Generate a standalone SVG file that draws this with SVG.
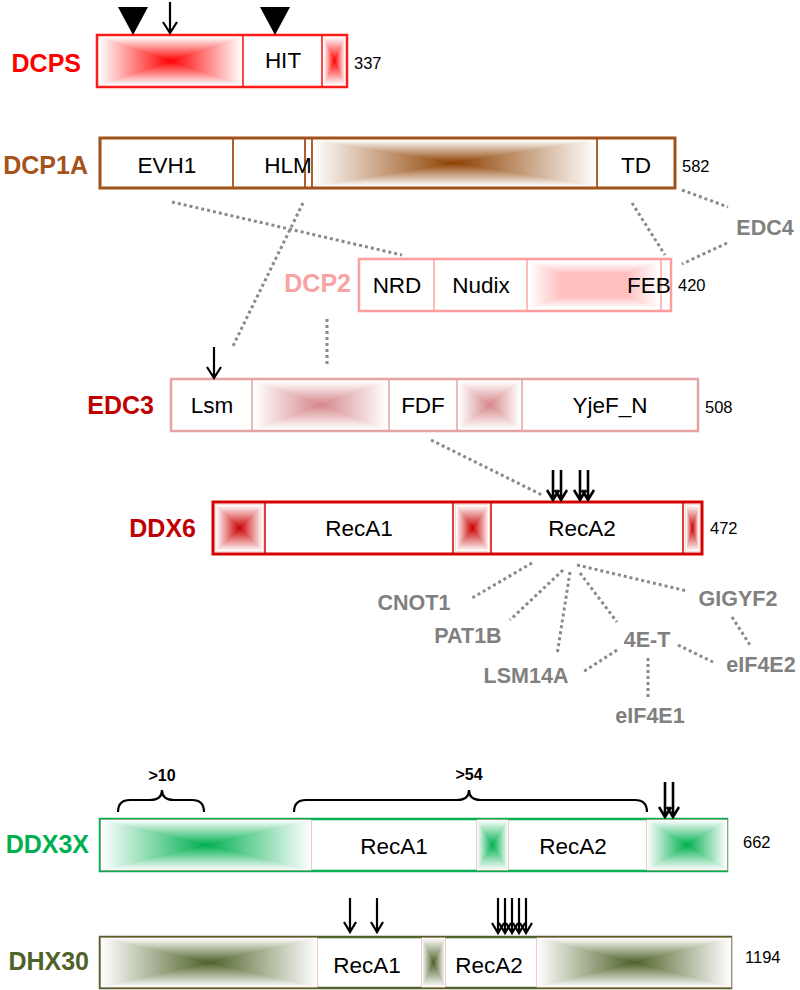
<svg xmlns="http://www.w3.org/2000/svg" xmlns:xlink="http://www.w3.org/1999/xlink" width="800" height="990" viewBox="0 0 800 990">
<style>
.lbl{font-family:"Liberation Sans",Arial,sans-serif;font-weight:bold;font-size:25px;text-anchor:end}
.dom{font-family:"Liberation Sans",Arial,sans-serif;font-size:22.5px;text-anchor:middle;fill:#000}
.num{font-family:"Liberation Sans",Arial,sans-serif;font-size:16.5px;fill:#000}
.gry{font-family:"Liberation Sans",Arial,sans-serif;font-weight:bold;font-size:21.5px;text-anchor:middle;fill:#808080}
.brt{font-family:"Liberation Sans",Arial,sans-serif;font-weight:bold;font-size:16px;text-anchor:middle;fill:#000}
.dot{stroke:#8a8a8a;stroke-width:3;stroke-dasharray:3 3;fill:none}
.arr{stroke:#000;stroke-width:2.2;fill:none}
.arr2{stroke:#000;stroke-width:2.6;fill:none}
.brace{stroke:#000;stroke-width:2.2;fill:none}
.tri{shape-rendering:crispEdges}
</style>
<defs>
<linearGradient id="fL" x1="0" y1="0" x2="1" y2="0"><stop offset="0" stop-color="#fff"/><stop offset="1" stop-color="#fff" stop-opacity="0"/></linearGradient>
<linearGradient id="fR" x1="1" y1="0" x2="0" y2="0"><stop offset="0" stop-color="#fff"/><stop offset="1" stop-color="#fff" stop-opacity="0"/></linearGradient>
<linearGradient id="fT" x1="0" y1="0" x2="0" y2="1"><stop offset="0" stop-color="#fff"/><stop offset="1" stop-color="#fff" stop-opacity="0"/></linearGradient>
<linearGradient id="fB" x1="0" y1="1" x2="0" y2="0"><stop offset="0" stop-color="#fff"/><stop offset="1" stop-color="#fff" stop-opacity="0"/></linearGradient>
<linearGradient id="pL" x1="0" y1="0" x2="1" y2="0"><stop offset="0" stop-color="#fff"/><stop offset="0.5" stop-color="#fff" stop-opacity="0"/></linearGradient>
<linearGradient id="pR" x1="1" y1="0" x2="0" y2="0"><stop offset="0" stop-color="#fff"/><stop offset="0.5" stop-color="#fff" stop-opacity="0"/></linearGradient>
<linearGradient id="pT" x1="0" y1="0" x2="0" y2="1"><stop offset="0" stop-color="#fff"/><stop offset="0.5" stop-color="#fff" stop-opacity="0"/></linearGradient>
<linearGradient id="pB" x1="0" y1="1" x2="0" y2="0"><stop offset="0" stop-color="#fff"/><stop offset="0.5" stop-color="#fff" stop-opacity="0"/></linearGradient>
<symbol id="fade" viewBox="0 0 100 100" preserveAspectRatio="none">
<polygon class="tri" points="0,0 50,50 0,100" fill="url(#fL)"/>
<polygon class="tri" points="100,0 50,50 100,100" fill="url(#fR)"/>
<polygon class="tri" points="0,0 100,0 50,50" fill="url(#fT)"/>
<polygon class="tri" points="0,100 100,100 50,50" fill="url(#fB)"/>
</symbol>
<symbol id="fade2" viewBox="0 0 100 100" preserveAspectRatio="none">
<polygon class="tri" points="0,0 50,50 0,100" fill="url(#pL)"/>
<polygon class="tri" points="100,0 50,50 100,100" fill="url(#pR)"/>
<polygon class="tri" points="0,0 100,0 50,50" fill="url(#pT)"/>
<polygon class="tri" points="0,100 100,100 50,50" fill="url(#pB)"/>
</symbol>
</defs>
<rect width="800" height="990" fill="#fff"/>

<g id="connectors">
<path class="dot" d="M172,202 L402,255"/>
<path class="dot" d="M303,203 L232,348"/>
<path class="dot" d="M632,203 L665,255"/>
<path class="dot" d="M682,190 L728,207"/>
<path class="dot" d="M727,243 L682,264"/>
<path class="dot" d="M327,319 L327,367"/>
<path class="dot" d="M431,440 L542,495"/>
<path class="dot" d="M532,563 L472,598"/>
<path class="dot" d="M563,570 L510,620"/>
<path class="dot" d="M570,572 L557,655"/>
<path class="dot" d="M580,573 L617,622"/>
<path class="dot" d="M577,565 L687,591"/>
<path class="dot" d="M732,617 L750,645"/>
<path class="dot" d="M678,645 L713,662"/>
<path class="dot" d="M617,650 L583,672"/>
<path class="dot" d="M648,658 L648,698"/>
</g>

<g id="DCPS">
<text class="lbl" x="81" y="72" fill="#ff0000">DCPS</text>
<rect x="97" y="35" width="250" height="52" fill="#fff"/>
<rect x="99" y="37" width="143" height="48" fill="#ff0000"/><use xlink:href="#fade" x="99" y="37" width="143" height="48"/>
<rect x="324" y="37" width="21" height="48" fill="#ff0000"/><use xlink:href="#fade" x="324" y="37" width="21" height="48"/>
<path d="M243,35 V87 M322,35 V87" stroke="#ff1a1a" stroke-width="1.6"/>
<rect x="97" y="35" width="250" height="52" fill="none" stroke="#ff1a1a" stroke-width="2.5"/>
<text class="dom" x="283" y="68">HIT</text>
<text class="num" x="354" y="69">337</text>
<polygon points="118,7 148,7 133,35" fill="#000"/>
<polygon points="260,7 290,7 275,35" fill="#000"/>
<path class="arr" d="M170,2 V33 M163,22 L170,33 L177,22"/>
</g>

<g id="DCP1A">
<text class="lbl" x="88" y="174" fill="#a5521b">DCP1A</text>
<rect x="100" y="138" width="575" height="50" fill="#fff"/>
<rect x="313" y="140" width="283" height="46" fill="#8e4000"/><use xlink:href="#fade" x="313" y="140" width="283" height="46"/>
<path d="M233,138 V188 M305,138 V188 M312,138 V188 M597,138 V188" stroke="#a0521a" stroke-width="1.8"/>
<rect x="100" y="138" width="575" height="50" fill="none" stroke="#a0521a" stroke-width="3"/>
<text class="dom" x="167" y="173">EVH1</text>
<text class="dom" x="288" y="173">HLM</text>
<text class="dom" x="636" y="173">TD</text>
<text class="num" x="682" y="172">582</text>
</g>

<g id="EDC4">
<text class="gry" x="765" y="235">EDC4</text>
</g>

<g id="DCP2">
<text class="lbl" x="351" y="292" fill="#f7a3a3">DCP2</text>
<rect x="359" y="259" width="312" height="52" fill="#fff"/>
<rect x="529" y="262" width="130" height="46" fill="#ffbfbf"/><use xlink:href="#fade2" x="529" y="262" width="130" height="46"/>
<path d="M434,259 V311 M527,259 V311 M661,259 V311" stroke="#ffa5a5" stroke-width="1.5"/>
<rect x="359" y="259" width="312" height="52" fill="none" stroke="#ff9d9d" stroke-width="2.5"/>
<text class="dom" x="397" y="293">NRD</text>
<text class="dom" x="481" y="293">Nudix</text>
<text class="dom" x="649" y="293">FEB</text>
<text class="num" x="678" y="291">420</text>
</g>

<g id="EDC3">
<text class="lbl" x="154" y="414" fill="#c00000">EDC3</text>
<rect x="171" y="379" width="527" height="52" fill="#fff"/>
<rect x="254" y="381" width="133" height="48" fill="#d6878a"/><use xlink:href="#fade" x="254" y="381" width="133" height="48"/>
<rect x="459" y="381" width="61" height="48" fill="#d6878a"/><use xlink:href="#fade" x="459" y="381" width="61" height="48"/>
<path d="M252,379 V431 M389,379 V431 M457,379 V431 M522,379 V431" stroke="#e6a3a3" stroke-width="1.5"/>
<rect x="171" y="379" width="527" height="52" fill="none" stroke="#e6a3a3" stroke-width="2.5"/>
<text class="dom" x="212" y="413">Lsm</text>
<text class="dom" x="423" y="413">FDF</text>
<text class="dom" x="610" y="413">YjeF_N</text>
<text class="num" x="705" y="413">508</text>
<path class="arr" d="M214,347 V378 M207,367 L214,378 L221,367"/>
</g>

<g id="DDX6">
<text class="lbl" x="196" y="537" fill="#c00000">DDX6</text>
<rect x="213" y="502" width="489" height="52" fill="#fff"/>
<rect x="216" y="505" width="47" height="46" fill="#cc0000" stroke="#f3d0d0" stroke-width="1.5"/><use xlink:href="#fade" x="216" y="505" width="47" height="46"/>
<rect x="456" y="505" width="33" height="46" fill="#cc0000" stroke="#f3d0d0" stroke-width="1.5"/><use xlink:href="#fade" x="456" y="505" width="33" height="46"/>
<rect x="686" y="505" width="13" height="46" fill="#cc0000" stroke="#f3d0d0" stroke-width="1.5"/><use xlink:href="#fade" x="686" y="505" width="13" height="46"/>
<path d="M265,502 V554 M453,502 V554 M491,502 V554 M683,502 V554" stroke="#d40000" stroke-width="1.5"/>
<rect x="213" y="502" width="489" height="52" fill="none" stroke="#d40000" stroke-width="3"/>
<text class="dom" x="359" y="536">RecA1</text>
<text class="dom" x="582" y="536">RecA2</text>
<text class="num" x="710" y="534">472</text>
<path class="arr2" d="M553,470 V500 M547,490 L553,500 L559,490 M561,470 V500 M555,490 L561,500 L567,490 M580,470 V500 M574,490 L580,500 L586,490 M588,470 V500 M582,490 L588,500 L594,490"/>
</g>

<g id="CNOT1"><text class="gry" x="414" y="610">CNOT1</text></g>
<g id="PAT1B"><text class="gry" x="468" y="643">PAT1B</text></g>
<g id="LSM14A"><text class="gry" x="526" y="683">LSM14A</text></g>
<g id="4E-T"><text class="gry" x="647" y="647">4E-T</text></g>
<g id="GIGYF2"><text class="gry" x="738" y="606">GIGYF2</text></g>
<g id="eIF4E2"><text class="gry" x="761" y="672">eIF4E2</text></g>
<g id="eIF4E1"><text class="gry" x="650" y="723">eIF4E1</text></g>

<g id="DDX3X">
<text class="lbl" x="89" y="853" fill="#00b050">DDX3X</text>
<rect x="100" y="819" width="627" height="52" fill="#fff" stroke="#00b050" stroke-width="2.5"/>
<rect x="101" y="820" width="210" height="50" fill="#00b050" stroke="#e8a5a5" stroke-width="1.2"/><use xlink:href="#fade" x="101" y="820" width="210" height="50"/>
<rect x="477" y="820" width="31" height="50" fill="#00b050" stroke="#e8a5a5" stroke-width="1.2"/><use xlink:href="#fade" x="477" y="820" width="31" height="50"/>
<rect x="647" y="820" width="80" height="50" fill="#00b050" stroke="#e8a5a5" stroke-width="1.2"/><use xlink:href="#fade" x="647" y="820" width="80" height="50"/>
<text class="dom" x="394" y="854">RecA1</text>
<text class="dom" x="573" y="854">RecA2</text>
<text class="num" x="743" y="848">662</text>
<path class="brace" d="M118,812 Q118,800 130,800 L150,800 Q162,800 162,790 Q162,800 174,800 L192,800 Q204,800 204,812"/>
<path class="brace" d="M294,812 Q294,800 306,800 L457,800 Q469,800 469,790 Q469,800 481,800 L635,800 Q647,800 647,812"/>
<text class="brt" x="162" y="781">&gt;10</text>
<text class="brt" x="469" y="780">&gt;54</text>
<path class="arr2" d="M665,782 V817 M659,807 L665,817 L671,807 M673,782 V817 M667,807 L673,817 L679,807"/>
</g>

<g id="DHX30">
<text class="lbl" x="89" y="970" fill="#4f6228">DHX30</text>
<rect x="100" y="937" width="631" height="51" fill="#fff" stroke="#4f6228" stroke-width="2.5"/>
<rect x="101" y="938" width="216" height="49" fill="#4f6228" stroke="#e8a5a5" stroke-width="1.2"/><use xlink:href="#fade" x="101" y="938" width="216" height="49"/>
<rect x="422" y="938" width="23" height="49" fill="#4f6228" stroke="#e8a5a5" stroke-width="1.2"/><use xlink:href="#fade" x="422" y="938" width="23" height="49"/>
<rect x="537" y="938" width="194" height="49" fill="#4f6228" stroke="#e8a5a5" stroke-width="1.2"/><use xlink:href="#fade" x="537" y="938" width="194" height="49"/>
<text class="dom" x="367" y="973">RecA1</text>
<text class="dom" x="489" y="973">RecA2</text>
<text class="num" x="745" y="963">1194</text>
<path class="arr" d="M350,898 V932 M344,922 L350,932 L356,922 M377,898 V932 M371,922 L377,932 L383,922"/>
<path class="arr" d="M498,898 V933 M492,923 L498,933 L504,923 M505,898 V933 M499,923 L505,933 L511,923 M512,898 V933 M506,923 L512,933 L518,923 M519,898 V933 M513,923 L519,933 L525,923 M526,898 V933 M520,923 L526,933 L532,923"/>
</g>
</svg>
